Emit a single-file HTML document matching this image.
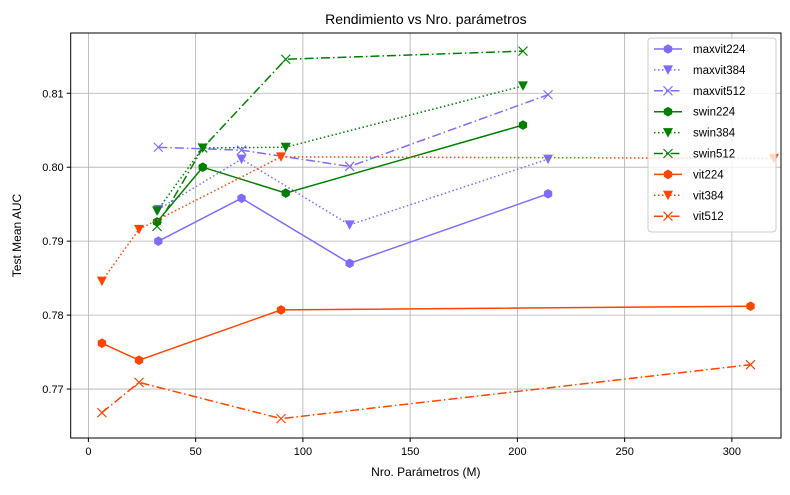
<!DOCTYPE html>
<html><head><meta charset="utf-8"><style>
body{margin:0;background:#fff;font-family:"Liberation Sans",sans-serif}
</style></head><body>
<svg id="chart" width="790" height="490" xmlns="http://www.w3.org/2000/svg" font-family="Liberation Sans, DejaVu Sans, sans-serif"></svg>
<script>
const seriesNames=["maxvit224","maxvit384","maxvit512","swin224","swin384","swin512","vit224","vit384","vit512"];
const maxvitX=[32.6,71.4,121.8,214.3];
const swinX=[32,53.3,92,202.6];
const vitX=[6.3,23.6,89.8,308.7];
const vit384X=[6.3,23.6,89.8,319.6];
const maxvit224Y=[0.790,0.7958,0.7870,0.7964];
const maxvit384Y=[0.7943,0.8011,0.7922,0.8011];
const maxvit512Y=[0.8027,0.8023,0.8001,0.8098];
const swin224Y=[0.7926,0.8000,0.7965,0.8057];
const swin384Y=[0.7941,0.8026,0.8027,0.8110];
const swin512Y=[0.7920,0.8026,0.8146,0.8157];
const vit224Y=[0.7762,0.7739,0.7807,0.7812];
const vit384Y=[0.7846,0.7916,0.8014,0.8012];
const vit512Y=[0.7668,0.7709,0.7660,0.7733];
const xTicks=[0,50,100,150,200,250,300];
const yTicks=[0.77,0.78,0.79,0.80,0.81];

const L=70.7,R=781,T=33,B=438;
const xmin=-8.25,xmax=322.9,ymin=0.76338,ymax=0.81815;
const sx=v=>L+(v-xmin)/(xmax-xmin)*(R-L);
const sy=v=>B-(v-ymin)/(ymax-ymin)*(B-T);
const svg=document.getElementById('chart');
const NS="http://www.w3.org/2000/svg";
function mk(tag,attrs,parent){const e=document.createElementNS(NS,tag);for(const k in attrs)e.setAttribute(k,attrs[k]);(parent||svg).appendChild(e);return e;}

const P="#7f6bff",G="#008000",O="#ff4500";
const specs=[
 [maxvitX,maxvit224Y,P,"","o"],[maxvitX,maxvit384Y,P,"1.5 2.5","v"],[maxvitX,maxvit512Y,P,"9 3 1.5 3","x"],
 [swinX,swin224Y,G,"","o"],[swinX,swin384Y,G,"1.5 2.5","v"],[swinX,swin512Y,G,"9 3 1.5 3","x"],
 [vitX,vit224Y,O,"","o"],[vit384X,vit384Y,O,"1.5 2.5","v"],[vitX,vit512Y,O,"9 3 1.5 3","x"]];

xTicks.forEach(t=>{const g=mk('line',{x1:sx(t),x2:sx(t),y1:T,y2:B,stroke:'#b0b0b0','stroke-width':0.8});

});
yTicks.forEach(t=>{const g=mk('line',{x1:L,x2:R,y1:sy(t),y2:sy(t),stroke:'#b0b0b0','stroke-width':0.8});

});

function marker(type,x,y,c,parent){
 let m;
 if(type==="o"){m=mk('polygon',{points:[0,1,2,3,4,5].map(i=>{const a=Math.PI/3*i+Math.PI/6;return (x+4.8*Math.cos(a))+','+(y+4.8*Math.sin(a));}).join(' '),fill:c},parent);}
 else if(type==="v"){m=mk('polygon',{points:`${x-5},${y-4.5} ${x+5},${y-4.5} ${x},${y+5}`,fill:c},parent);}
 else {m=mk('path',{d:`M${x-4.5} ${y-4.5}L${x+4.5} ${y+4.5}M${x-4.5} ${y+4.5}L${x+4.5} ${y-4.5}`,stroke:c,'stroke-width':1.2,fill:'none'},parent);}
 return m;
}

specs.forEach((s,i)=>{
 const g=mk('g',{});
 
 
 const pts=s[0].map((x,j)=>sx(x)+','+sy(s[1][j])).join(' ');
 const pl=mk('polyline',{points:pts,fill:'none',stroke:s[2],'stroke-width':1.5,'stroke-dasharray':s[3]},g);
 
 
 s[0].forEach((x,j)=>{const m=marker(s[4],sx(x),sy(s[1][j]),s[2],g);
  
  });
});

const fr=mk('rect',{x:L,y:T,width:R-L,height:B-T,fill:'none',stroke:'#000','stroke-width':1});



xTicks.forEach(t=>{mk('line',{x1:sx(t),x2:sx(t),y1:B,y2:B+4,stroke:'#000'});
 const tx=mk('text',{x:sx(t),y:B+17,'text-anchor':'middle','font-size':11});tx.textContent=t;
 
 });
yTicks.forEach(t=>{mk('line',{x1:L-4,x2:L,y1:sy(t),y2:sy(t),stroke:'#000'});
 const tx=mk('text',{x:L-7,y:sy(t)+4,'text-anchor':'end','font-size':11});tx.textContent=t.toFixed(2);
 
 });

const ti=mk('text',{x:(L+R)/2,y:24,'text-anchor':'middle','font-size':14});ti.textContent="Rendimiento vs Nro. parámetros";


const xl=mk('text',{x:(L+R)/2,y:476,'text-anchor':'middle','font-size':12});xl.textContent="Nro. Parámetros (M)";


const yl=mk('text',{x:21,y:(T+B)/2,'text-anchor':'middle','font-size':12,transform:`rotate(-90 21 ${(T+B)/2})`});yl.textContent="Test Mean AUC";



const lg=mk('g',{});


mk('rect',{x:648,y:38,width:128,height:194,rx:3,fill:'#fff','fill-opacity':0.8,stroke:'#ccc'},lg);
specs.forEach((s,i)=>{
 const y=49+i*20.9;
 const e=mk('g',{},lg);
 
 
 mk('line',{x1:654,x2:682,y1:y,y2:y,stroke:s[2],'stroke-width':1.5,'stroke-dasharray':s[3]},e);
 marker(s[4],668,y,s[2],e);
 const t=mk('text',{x:693,y:y+4,'font-size':11.5},e);t.textContent=seriesNames[i];
});
</script>
</body></html>
